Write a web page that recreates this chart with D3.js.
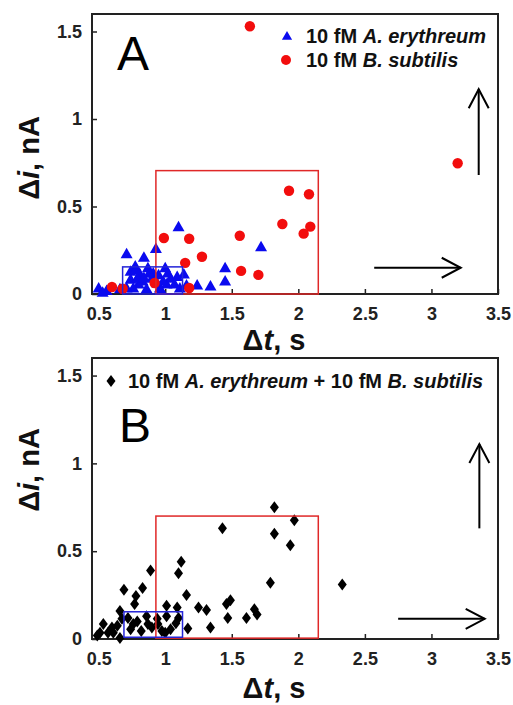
<!DOCTYPE html>
<html>
<head>
    <meta charset="utf-8" />
    <title>Δi vs Δt scatter</title>
    <script src="https://cdn.jsdelivr.net/npm/d3@7"></script>
    <style>
        body { margin: 0; background: #fff; }
        svg { display: block; font-family: "Liberation Sans", Arial, sans-serif; }
        .axis text { font-size: 18px; font-weight: bold; fill: #222; }
        .axis line { stroke: #222; stroke-width: 1.5; }
        .axis path { display: none; }
        .title { font-size: 29px; font-weight: bold; fill: #111; }
        .legend { font-size: 20px; font-weight: bold; fill: #111; }
        .panel { font-size: 48px; fill: #000; }
    </style>
</head>
<body>
<script>
    // A. erythreum events, panel A (dwell time s, current drop nA)
    var aeryT = [0.50, 0.56, 0.71, 0.84, 0.93, 1.10, 0.87, 1.00, 0.775, 0.74, 1.14, 1.09, 1.45, 1.45, 1.24,
                 1.34, 1.16, 1.72, 1.01, 0.80, 0.76, 0.83, 0.90, 0.96, 0.81, 0.91, 1.04, 0.74, 0.86, 0.94,
                 0.71, 0.985, 1.07, 0.79, 1.11, 0.66, 0.53, 0.88, 0.78, 0.95, 1.02, 0.84, 0.97];
    var aeryI = [0.035, 0.02, 0.23, 0.21, 0.26, 0.385, 0.15, 0.15, 0.16, 0.13, 0.115, 0.10, 0.15, 0.075, 0.052,
                 0.046, 0.052, 0.27, 0.057, 0.057, 0.035, 0.075, 0.09, 0.035, 0.115, 0.12, 0.09, 0.085, 0.03, 0.063,
                 0.035, 0.075, 0.057, 0.09, 0.035, 0.03, 0.01, 0.12, 0.14, 0.11, 0.12, 0.095, 0.02];

    // B. subtilis events, panel A
    var bsubT = [1.636, 3.197, 1.93, 2.08, 1.88, 2.09, 2.04, 1.56, 1.57, 1.70, 1.276, 1.15, 0.99, 1.18, 0.92, 1.18, 0.60, 0.68];
    var bsubI = [1.53, 0.747, 0.59, 0.57, 0.40, 0.385, 0.345, 0.333, 0.132, 0.109, 0.213, 0.178, 0.32, 0.316, 0.063, 0.034, 0.04, 0.03];

    // mixture events, panel B
    var mixT = [1.82, 1.97, 1.43, 1.94, 2.33, 1.82, 1.12, 1.10, 0.89, 0.69, 0.83, 0.78, 1.16, 1.79, 1.49, 1.46, 1.25,
                1.31, 1.67, 1.69, 1.61, 1.47, 0.77, 0.66, 1.01, 1.09, 1.34, 1.17, 0.535, 0.49, 0.60, 0.66, 0.72,
                0.79, 0.86, 0.94, 1.01, 1.08, 0.74, 0.82, 0.90, 0.975, 1.04, 1.10, 0.76, 0.87, 0.945, 1.00, 0.61,
                0.57, 0.51, 0.64, 0.675];
    var mixI = [0.75, 0.676, 0.63, 0.534, 0.31, 0.60, 0.44, 0.375, 0.39, 0.28, 0.29, 0.245, 0.25, 0.32, 0.22, 0.20, 0.18,
                0.165, 0.17, 0.14, 0.12, 0.12, 0.20, 0.16, 0.19, 0.18, 0.065, 0.06, 0.085, 0.02, 0.065, 0.005, 0.12,
                0.10, 0.13, 0.115, 0.13, 0.09, 0.055, 0.045, 0.065, 0.045, 0.055, 0.12, 0.085, 0.085, 0.085, 0.035, 0.035,
                0.035, 0.035, 0.075, 0.115];

    var xTicks = [0.5, 1, 1.5, 2, 2.5, 3, 3.5];
    var yTicks = [0, 0.5, 1, 1.5];

    // boxed regions [t0, t1, i0, i1]
    var blueBoxA = [0.68, 1.13, 0, 0.155];
    var redBoxA = [0.93, 2.15, 0, 0.705];
    var blueBoxB = [0.69, 1.13, 0.01, 0.155];
    var redBoxB = [0.93, 2.15, 0.005, 0.70];

    // arrows [t0, i0, t1, i1]
    var arrowsA = [[3.355, 0.68, 3.355, 1.17], [2.57, 0.15, 3.22, 0.15]];
    var arrowsB = [[3.36, 0.63, 3.36, 1.11], [2.75, 0.115, 3.40, 0.115]];

    var width = 513, height = 705;

    var svg = d3.select("body").append("svg")
        .attr("width", width)
        .attr("height", height);

    var x = d3.scaleLinear().domain([0.45, 3.5]).range([92, 498]);

    var panelA = {
        y: d3.scaleLinear().domain([0, 1.6]).range([294, 14]),
        top: 14, bottom: 294,
        label: "A", labelX: 117, labelY: 70,
        xTitleY: 350, yTitleY: 158
    };
    var panelB = {
        y: d3.scaleLinear().domain([0, 1.6]).range([639, 358]),
        top: 358, bottom: 639,
        label: "B", labelX: 119, labelY: 442,
        xTitleY: 698, yTitleY: 470
    };

    var triangle = "M0,-6L6,4.5L-6,4.5Z";
    var diamond = "M0,-6L4.5,0L0,6L-4.5,0Z";

    renderFrame(panelA);
    renderFrame(panelB);

    // panel A markers
    var gA = svg.append("g");
    gA.selectAll("path.aery")
        .data(d3.range(aeryT.length))
      .enter().append("path")
        .attr("class", "aery")
        .attr("d", triangle)
        .attr("fill", "#0a0aef")
        .attr("transform", function(i){
            return "translate(" + x(aeryT[i]) + "," + panelA.y(aeryI[i]) + ")";
        });
    gA.selectAll("circle.bsub")
        .data(d3.range(bsubT.length))
      .enter().append("circle")
        .attr("class", "bsub")
        .attr("r", 5.2)
        .attr("fill", "#f20d0d")
        .attr("cx", function(i){ return x(bsubT[i]); })
        .attr("cy", function(i){ return panelA.y(bsubI[i]); });

    // panel B markers
    svg.append("g").selectAll("path.mix")
        .data(d3.range(mixT.length))
      .enter().append("path")
        .attr("class", "mix")
        .attr("d", diamond)
        .attr("fill", "#000")
        .attr("transform", function(i){
            return "translate(" + x(mixT[i]) + "," + panelB.y(mixI[i]) + ")";
        });

    renderBox(panelA, redBoxA, "#e02828");
    renderBox(panelA, blueBoxA, "#2424d8");
    renderBox(panelB, redBoxB, "#e02828");
    renderBox(panelB, blueBoxB, "#2424d8");

    arrowsA.forEach(function(a){ renderArrow(panelA, a); });
    arrowsB.forEach(function(a){ renderArrow(panelB, a); });

    // legends
    svg.append("path").attr("d", triangle).attr("fill", "#0a0aef")
        .attr("transform", "translate(287,36) scale(0.85)");
    legendText(306, 43, [["10 fM ", false], ["A. erythreum", true]]);
    svg.append("circle").attr("cx", 286).attr("cy", 60).attr("r", 5).attr("fill", "#f20d0d");
    legendText(306, 67, [["10 fM ", false], ["B. subtilis", true]]);

    svg.append("path").attr("d", diamond).attr("fill", "#000")
        .attr("transform", "translate(111,381)");
    legendText(128, 388, [["10 fM ", false], ["A. erythreum", true], [" + 10 fM ", false], ["B. subtilis", true]]);

    function renderFrame(p){
        var xAxis = d3.axisBottom(x)
            .tickValues(xTicks)
            .tickFormat(d3.format("~g"))
            .tickSizeInner(-5)
            .tickSizeOuter(0)
            .tickPadding(13);
        var yAxis = d3.axisLeft(p.y)
            .tickValues(yTicks)
            .tickFormat(d3.format("~g"))
            .tickSizeInner(-5)
            .tickSizeOuter(0)
            .tickPadding(10);

        svg.append("g")
            .attr("class", "axis")
            .attr("transform", "translate(0," + p.bottom + ")")
            .call(xAxis);
        svg.append("g")
            .attr("class", "axis")
            .attr("transform", "translate(" + x.range()[0] + ",0)")
            .call(yAxis);

        svg.append("rect")
            .attr("x", x.range()[0])
            .attr("y", p.top)
            .attr("width", x.range()[1] - x.range()[0])
            .attr("height", p.bottom - p.top)
            .attr("fill", "none")
            .attr("stroke", "#222")
            .attr("stroke-width", 2);

        svg.append("text")
            .attr("class", "panel")
            .attr("x", p.labelX)
            .attr("y", p.labelY)
            .text(p.label);

        var xt = svg.append("text")
            .attr("class", "title")
            .attr("x", 274)
            .attr("y", p.xTitleY)
            .attr("text-anchor", "middle");
        xt.append("tspan").text("\u0394");
        xt.append("tspan").attr("font-style", "italic").text("t");
        xt.append("tspan").text(", s");

        var yt = svg.append("text")
            .attr("class", "title")
            .attr("text-anchor", "middle")
            .attr("transform", "translate(39," + p.yTitleY + ") rotate(-90)");
        yt.append("tspan").text("\u0394");
        yt.append("tspan").attr("font-style", "italic").text("i");
        yt.append("tspan").text(", nA");
    }

    function renderBox(p, b, color){
        svg.append("rect")
            .attr("x", x(b[0]))
            .attr("y", p.y(b[3]))
            .attr("width", x(b[1]) - x(b[0]))
            .attr("height", p.y(b[2]) - p.y(b[3]))
            .attr("fill", "none")
            .attr("stroke", color)
            .attr("stroke-width", 1.5);
    }

    function renderArrow(p, a){
        var x0 = x(a[0]), y0 = p.y(a[1]), x1 = x(a[2]), y1 = p.y(a[3]);
        var ang = Math.atan2(y1 - y0, x1 - x0) * 180 / Math.PI;
        svg.append("line")
            .attr("x1", x0).attr("y1", y0)
            .attr("x2", x1).attr("y2", y1)
            .attr("stroke", "#000")
            .attr("stroke-width", 2);
        svg.append("path")
            .attr("d", "M-19,-10L0,0L-19,10")
            .attr("fill", "none")
            .attr("stroke", "#000")
            .attr("stroke-width", 2)
            .attr("transform", "translate(" + x1 + "," + y1 + ") rotate(" + ang + ")");
    }

    function legendText(lx, ly, parts){
        var t = svg.append("text")
            .attr("class", "legend")
            .attr("x", lx)
            .attr("y", ly);
        parts.forEach(function(s){
            t.append("tspan")
                .attr("font-style", s[1] ? "italic" : null)
                .text(s[0]);
        });
    }
</script>
</body>
</html>
